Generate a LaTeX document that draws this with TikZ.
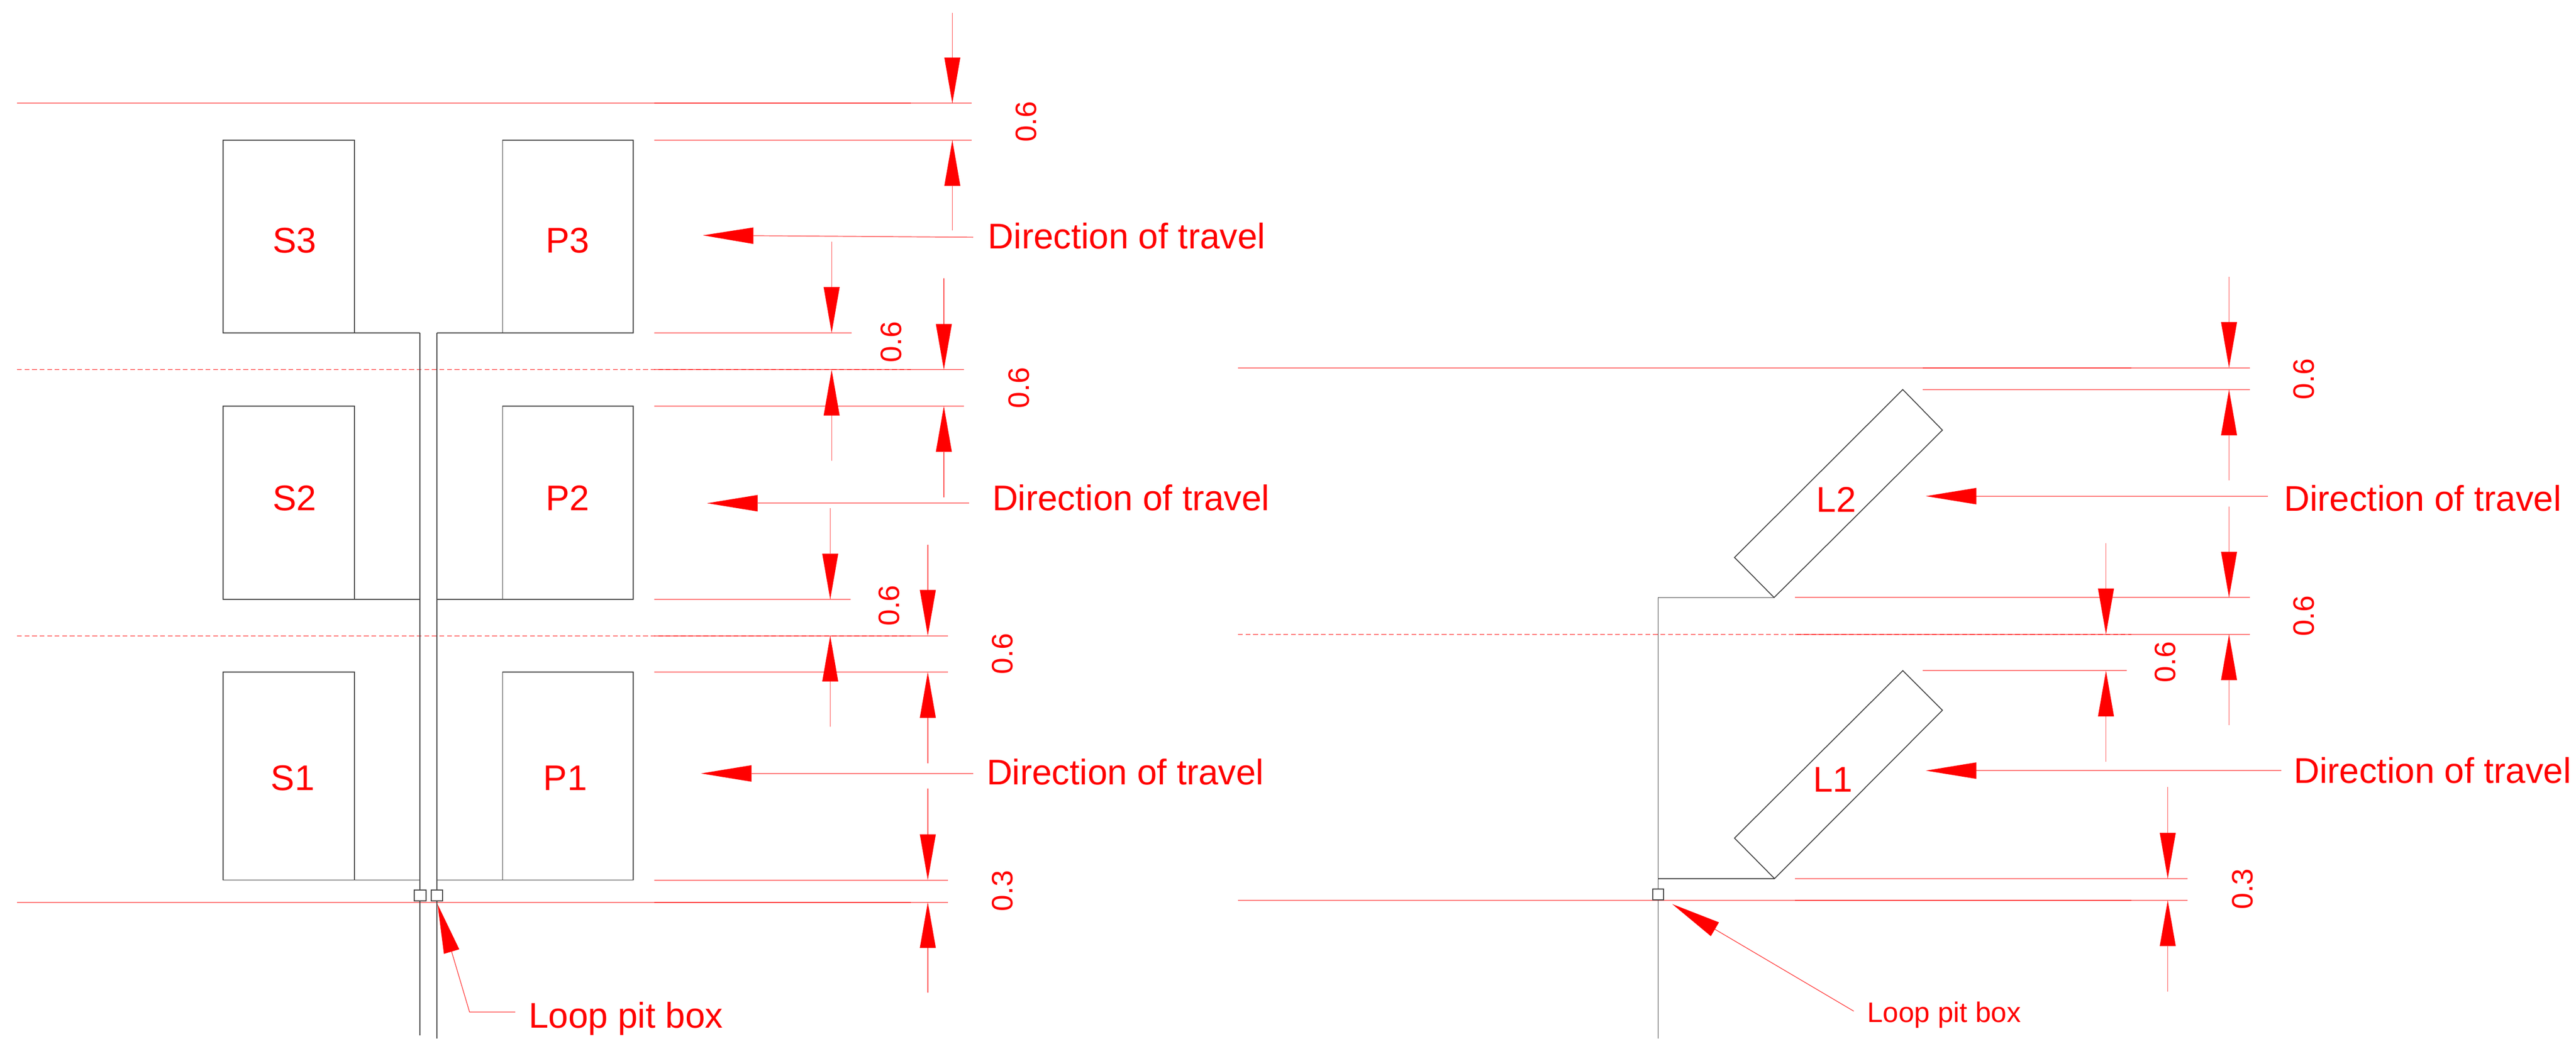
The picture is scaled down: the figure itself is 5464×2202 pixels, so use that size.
\documentclass[tikz,border=0pt]{standalone}
\usepackage{fontspec}
\setmainfont{Liberation Sans}
\usetikzlibrary{arrows.meta}
\definecolor{drawgray}{HTML}{444444}
\tikzset{
  x=0.01cm,y=-0.01cm,
  outline/.style={draw=drawgray,line width=0.55pt,line join=miter},
  refline/.style={draw=red,opacity=0.55,line width=0.6pt},
  refdash/.style={refline,dash pattern=on 2.9pt off 1.65pt},
  dimline/.style={draw=red!70!white,line width=0.38pt,
    -{Triangle[length=9.7mm,width=3.4mm,color=red,line width=0pt]}},
  dirline/.style={draw=red!55!white,line width=0.6pt,
    -{Triangle[length=10.7mm,width=3.5mm,color=red,line width=0pt]}},
  leaderline/.style={draw=red!75!white,line width=0.42pt,
    -{Triangle[length=10.5mm,width=3.4mm,color=red,line width=0pt]}},
  tag/.style={text=red,inner sep=0pt,font=\fontsize{21.5}{25}\selectfont},
  dirtag/.style={tag,anchor=base west},
  dimtag/.style={text=red,inner sep=0pt,rotate=90,font=\fontsize{17.8}{21}\selectfont},
}
\begin{document}
\begin{tikzpicture}
\useasboundingbox (0,0) rectangle (5464,2202);
\fill[white] (0,0) rectangle (5464,2202);

% ---- reference lines, left plan
\draw[refline] (36,219) -- (1932,219);
\draw[refline] (1388,219) -- (2061,219);
\draw[refline] (1388,297) -- (2061,297);
\draw[refline] (1388,706) -- (1806,706);
\draw[refdash] (36,784) -- (1932,784);
\draw[refline] (1388,784) -- (2045,784);
\draw[refline] (1388,861) -- (2045,861);
\draw[refline] (1388,1271) -- (1804,1271);
\draw[refdash] (36,1348) -- (1932,1348);
\draw[refline] (1388,1348) -- (2011,1348);
\draw[refline] (1388,1425) -- (2011,1425);
\draw[refline] (1388,1866) -- (2011,1866);
\draw[refline] (36,1913) -- (1932,1913);
\draw[refline] (1388,1913) -- (2011,1913);

% ---- reference lines, right plan
\draw[refline] (2626,780) -- (4521,780);
\draw[refline] (4078,780) -- (4772,780);
\draw[refline] (4078,826) -- (4772,826);
\draw[refline] (3807,1267) -- (4772,1267);
\draw[refdash] (2626,1345) -- (4521,1345);
\draw[refline] (3807,1345) -- (4772,1345);
\draw[refline] (4078,1422) -- (4511,1422);
\draw[refline] (3807,1863) -- (4640,1863);
\draw[refline] (2626,1909) -- (4521,1909);
\draw[refline] (3807,1909) -- (4640,1909);

% ---- left plan outlines
\foreach \ya/\yb in {297/706,861/1271,1425/1866}{
  \draw[outline] (473,\ya) rectangle (752,\yb);
  \draw[outline] (1066,\ya) rectangle (1343,\yb);
  \draw[outline] (752,\yb) -- (891,\yb);
  \draw[outline] (927,\yb) -- (1066,\yb);
}
\draw[outline] (891,706) -- (891,2195);
\draw[outline] (927,706) -- (927,2202);
\draw[outline,fill=white] (879,1887) rectangle (903.5,1910);
\draw[outline,fill=white] (915,1887) rectangle (938.5,1910);

% ---- right plan outlines
\draw[outline] (4036,826) -- (4120,912) -- (3763,1267) -- (3679,1182) -- cycle;
\draw[outline] (4036,1422) -- (4120,1506) -- (3764,1863) -- (3679,1777) -- cycle;
\draw[outline] (3763,1267) -- (3517,1267) -- (3517,2202);
\draw[outline] (3517,1863) -- (3764,1863);
\draw[outline,fill=white] (3505.5,1885) rectangle (3529,1908);

% ---- bay names
\node[tag] (s3) at (625,510) {S3};
\node[tag] (p3) at (1204,510) {P3};
\node[tag] (s2) at (625,1056) {S2};
\node[tag] (p2) at (1204,1056) {P2};
\node[tag] (s1) at (621,1650) {S1};
\node[tag] (p1) at (1199,1650) {P1};
\node[tag] (l2) at (3895,1059) {L2};
\node[tag] (l1) at (3888,1653) {L1};

% ---- dimension arrows, left plan
\draw[dimline] (2020,27) -- (2020,219);
\draw[dimline] (2020,489) -- (2020,297);
\draw[dimline] (1764,513) -- (1764,706);
\draw[dimline] (1764,977) -- (1764,784);
\draw[dimline] (2002,590) -- (2002,784);
\draw[dimline] (2002,1054) -- (2002,861);
\draw[dimline] (1761,1077) -- (1761,1271);
\draw[dimline] (1761,1541) -- (1761,1348);
\draw[dimline] (1968,1155) -- (1968,1348);
\draw[dimline] (1968,1618) -- (1968,1425);
\draw[dimline] (1968,1672) -- (1968,1866);
\draw[dimline] (1968,2105) -- (1968,1913);

% ---- dimension arrows, right plan
\draw[dimline] (4728,587) -- (4728,780);
\draw[dimline] (4728,1019) -- (4728,826);
\draw[dimline] (4728,1074) -- (4728,1267);
\draw[dimline] (4728,1538) -- (4728,1345);
\draw[dimline] (4467,1152) -- (4467,1345);
\draw[dimline] (4467,1615) -- (4467,1422);
\draw[dimline] (4598,1669) -- (4598,1863);
\draw[dimline] (4598,2103) -- (4598,1909);

% ---- dimension values
\node[dimtag] (d1) at (2177,258) {0.6};
\node[dimtag] (d2) at (1890,725) {0.6};
\node[dimtag] (d3) at (2161,822) {0.6};
\node[dimtag] (d4) at (1886,1284) {0.6};
\node[dimtag] (d5) at (2126,1386) {0.6};
\node[dimtag] (d6) at (2126,1889) {0.3};
\node[dimtag] (d7) at (4887,804) {0.6};
\node[dimtag] (d8) at (4887,1306) {0.6};
\node[dimtag] (d9) at (4593,1404) {0.6};
\node[dimtag] (d10) at (4757,1885) {0.3};

% ---- direction of travel
\node[dirtag] (t1) at (2095,527) {Direction of travel};
\node[dirtag] (t2) at (2104,1082) {Direction of travel};
\node[dirtag] (t3) at (2092,1664) {Direction of travel};
\node[dirtag] (t4) at (4844,1083) {Direction of travel};
\node[dirtag] (t5) at (4865,1661) {Direction of travel};
\draw[dirline] (2064,503) -- (1491,499);
\draw[dirline] (2055,1067) -- (1500,1067);
\draw[dirline] (2064,1640) -- (1487,1640);
\draw[dirline] (4810,1052) -- (4085,1052);
\draw[dirline] (4839,1634) -- (4085,1634);

% ---- loop pit box callouts
\node[tag,anchor=base west] (lp1) at (1121,2180) {Loop pit box};
\node[tag,anchor=base west,font=\fontsize{17}{20}\selectfont] (lp2) at (3960,2168) {Loop pit box};
\coordinate (lp1k) at (996,2146);
\coordinate (lp1e) at (1093,2146);
\coordinate (lp1t) at (928,1917);
\coordinate (lp2s) at (3932,2144);
\coordinate (lp2t) at (3547,1917);
\draw[leaderline] (lp1e) -- (lp1k) -- (lp1t);
\draw[leaderline] (lp2s) -- (lp2t);
\end{tikzpicture}
\end{document}
